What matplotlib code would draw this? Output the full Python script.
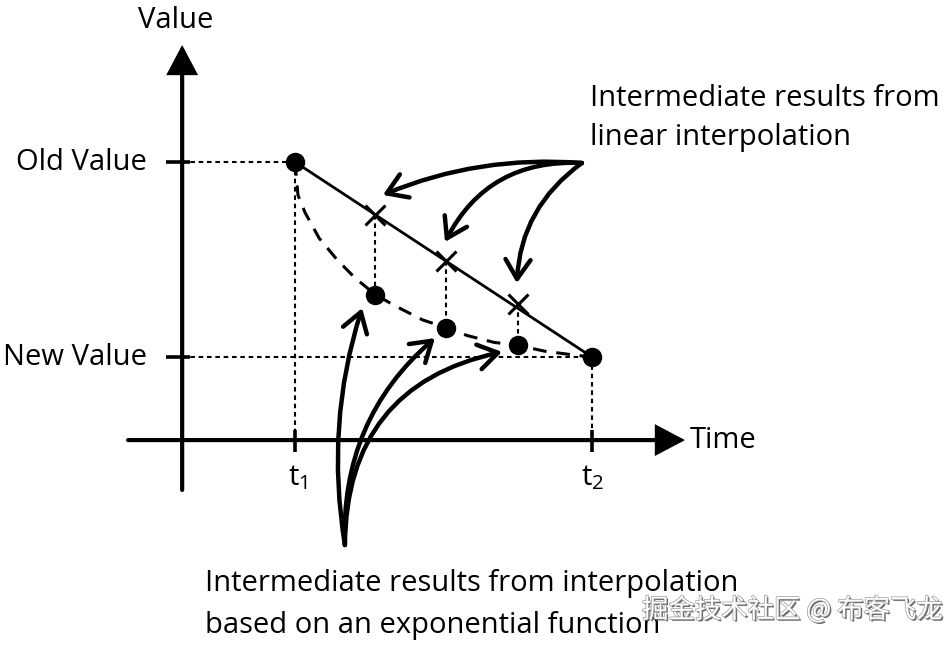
import matplotlib
matplotlib.use('Agg')
import matplotlib.pyplot as plt
import matplotlib.patheffects as pe
from matplotlib.patches import FancyArrowPatch

# Datos (t: 0 = t1, 1 = t2; valor: 0 = New Value, 1 = Old Value)
ends_t = [0.0, 1.0]
ends_v = [1.0, 0.0]
cross_t = [0.27, 0.51, 0.75]
cross_v = [0.73, 0.49, 0.27]
exp_t = [0.27, 0.51, 0.75]
exp_v = [0.32, 0.15, 0.06]
curve_t = [0, 0.01, 0.034, 0.081, 0.141, 0.199, 0.27, 0.34, 0.43, 0.51, 0.58, 0.67, 0.75, 0.84, 0.93, 1.0]
curve_v = [1, 0.83, 0.74, 0.61, 0.50, 0.41, 0.32, 0.26, 0.19, 0.15, 0.11, 0.075, 0.06, 0.03, 0.012, 0]
tick_labels_y = ['Old Value', 'New Value']
tick_labels_x = [r't$_\mathregular{1}$', r't$_\mathregular{2}$']
top_lines = ['Intermediate results from', 'linear interpolation']
bottom_lines = ['Intermediate results from interpolation', 'based on an exponential function']

FONT = ['Open Sans', 'DejaVu Sans']
W, H = 946, 646

fig = plt.figure(figsize=(W / 100, H / 100), dpi=100)
ax = fig.add_axes([0, 0, 1, 1])
ax.set_xlim(-0.9933, 2.1919)
ax.set_ylim(-1.482, 1.8308)
ax.axis('off')

def fx(px):
    return px / W

def fy(py):
    return 1 - py / H

# Ejes con flechas
yax_x, xax_y = -0.38, -0.426
ax.add_patch(FancyArrowPatch((yax_x, -0.682), (yax_x, 1.60),
                             arrowstyle='-|>,head_length=17,head_width=9',
                             lw=3, color='black', shrinkA=0, shrinkB=0,
                             joinstyle='miter'))
ax.add_patch(FancyArrowPatch((-0.562, xax_y), (1.313, xax_y),
                             arrowstyle='-|>,head_length=17,head_width=9',
                             lw=3, color='black', shrinkA=0, shrinkB=0,
                             joinstyle='miter'))

# Marcas de los ejes
for v in ends_v:
    ax.plot([-0.434, -0.354], [v, v], color='black', lw=2.6, solid_capstyle='butt')
for t in ends_t:
    ax.plot([t, t], [-0.374, -0.487], color='black', lw=2.6, solid_capstyle='butt')

dot = (0, (2.2, 1.8))
# Lineas punteadas de referencia
ax.plot([yax_x, ends_t[0]], [ends_v[0], ends_v[0]], color='black', lw=1.5, ls=dot)
ax.plot([yax_x, ends_t[1]], [ends_v[1], ends_v[1]], color='black', lw=1.5, ls=dot)
for t, v in zip(ends_t, ends_v):
    ax.plot([t, t], [v, xax_y], color='black', lw=1.5, ls=dot)
for t, v1, v2 in zip(cross_t, cross_v, exp_v):
    ax.plot([t, t], [v1, v2], color='black', lw=1.5, ls=dot)

# Interpolacion lineal y exponencial
ax.plot(ends_t, ends_v, color='black', lw=2.0)
ax.plot(curve_t, curve_v, color='black', lw=2.2, ls=(0, (4.5, 3.2)))
ax.plot(cross_t, cross_v, ls='none', marker='x', ms=14, mew=2.2, color='black')
ax.plot(exp_t, exp_v, ls='none', marker='o', ms=13, color='black')
ax.plot(ends_t, ends_v, ls='none', marker='o', ms=13, color='black')

# Flechas curvas de anotacion
style = '->,head_length=14,head_width=9'
top_src = (0.966, 0.995)
top_dst = [(0.296, 0.831), (0.505, 0.590), (0.747, 0.379)]
top_rad = [0.12, 0.32, 0.24]
for dst, r in zip(top_dst, top_rad):
    ax.add_patch(FancyArrowPatch(top_src, dst, arrowstyle=style,
                                 connectionstyle=f'arc3,rad={r}',
                                 lw=3.2, color='black', shrinkA=0, shrinkB=0))
bot_src = (0.168, -0.964)
bot_dst = [(0.226, 0.251), (0.471, 0.097), (0.697, 0.026)]
bot_rad = [-0.12, -0.24, -0.40]
for dst, r in zip(bot_dst, bot_rad):
    ax.add_patch(FancyArrowPatch(bot_src, dst, arrowstyle=style,
                                 connectionstyle=f'arc3,rad={r}',
                                 lw=3.2, color='black', shrinkA=0, shrinkB=0))

# Textos
fs = 21
fig.text(fx(176), fy(21), 'Value', ha='center', va='center', fontsize=fs, family=FONT)
for lab, py in zip(tick_labels_y, [163, 357]):
    fig.text(fx(147), fy(py), lab, ha='right', va='center', fontsize=fs, family=FONT)
for lab, px in zip(tick_labels_x, [298, 593]):
    fig.text(fx(px), fy(478), lab, ha='center', va='center', fontsize=fs, family=FONT)
fig.text(fx(690), fy(441), 'Time', ha='left', va='center', fontsize=fs, family=FONT)
for line, py in zip(top_lines, [98, 137]):
    fig.text(fx(590), fy(py), line, ha='left', va='center', fontsize=fs, family=FONT)
for line, py in zip(bottom_lines, [583, 626]):
    fig.text(fx(205), fy(py), line, ha='left', va='center', fontsize=fs, family=FONT)

# Marca de agua
fig.text(fx(642), fy(610), '掘金技术社区 @ 布客飞龙', ha='left', va='center', fontsize=19,
         color='white', family=['Noto Sans CJK SC', 'DejaVu Sans'],
         path_effects=[pe.withSimplePatchShadow(offset=(1.2, -1.2), shadow_rgbFace='#555555', alpha=0.9),
                       pe.Stroke(linewidth=1.0, foreground='#9a9a9a'), pe.Normal()])

fig.savefig('out.png', dpi=100)
